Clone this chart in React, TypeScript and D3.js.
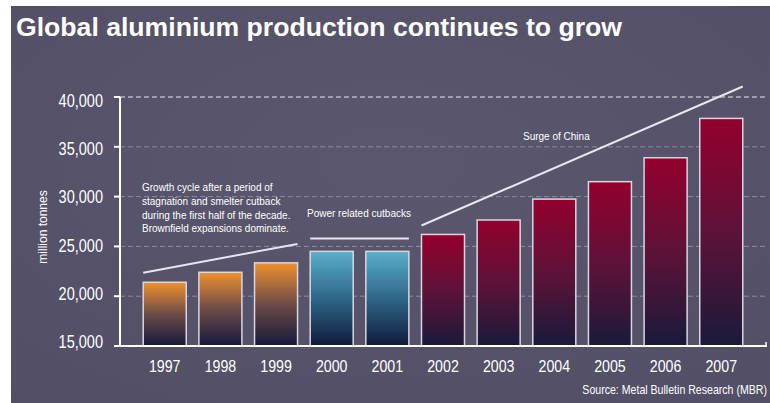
import React from "react";
import * as d3 from "d3";

// Annual production by year
const years = ["1997", "1998", "1999", "2000", "2001", "2002", "2003", "2004", "2005", "2006", "2007"];
const production = [21400, 22400, 23350, 24500, 24500, 26200, 27650, 29750, 31500, 33900, 37850];
// Phase each year belongs to (drives the bar colour)
const phases = ["growth", "growth", "growth", "cutback", "cutback", "china", "china", "china", "china", "china", "china"];
const yTicks = [15000, 20000, 25000, 30000, 35000, 40000];

// Trend annotations: start / end year and value
const trendGrowth = { from: ["1997", 22350], to: ["1999", 25250] };
const trendCutback = { from: ["2000", 25800], to: ["2001", 25800] };
const trendChina = { from: ["2002", 27100], to: ["2007", 41050] };

const growthNote = [
  "Growth cycle after a period of",
  "stagnation and smelter cutback",
  "during the first half of the decade.",
  "Brownfield expansions dominate.",
];

const W = 770;
const H = 403;
const FONT = "'Liberation Sans', Arial, sans-serif";

// Horizontally condensed text (narrow grotesque look)
function Narrow({
  x,
  y,
  sx,
  size,
  anchor = "start",
  bold = false,
  children,
}: {
  x: number;
  y: number;
  sx: number;
  size: number;
  anchor?: string;
  bold?: boolean;
  children: React.ReactNode;
}) {
  return (
    <text
      transform={`translate(${x},${y}) scale(${sx},1)`}
      textAnchor={anchor}
      fill="#ffffff"
      fontFamily={FONT}
      fontWeight={bold ? "bold" : "normal"}
      fontSize={size}
    >
      {children}
    </text>
  );
}

export default function App() {
  const x = d3.scaleBand<string>().domain(years).range([120, 766]).paddingInner(0.227).paddingOuter(0.4175);
  const y = d3.scaleLinear().domain([15000, 40000]).range([346, 97]);
  // tick labels sit on a slightly tighter spacing than the ticks
  const yLabel = d3.scaleLinear().domain([15000, 40000]).range([341.7, 100.7]);
  const fmt = d3.format(",");

  const gradId = (p: string) => `grad-${p}`;
  const lineFrom = (t: { from: any[]; to: any[] }) => ({
    x1: x(t.from[0])!,
    y1: y(t.from[1]),
    x2: x(t.to[0])! + x.bandwidth(),
    y2: y(t.to[1]),
  });
  const trends = [trendGrowth, trendCutback, trendChina].map(lineFrom);

  return (
    <svg width={W} height={H} style={{ position: "absolute", left: 0, top: 0 }}>
      <defs>
        <linearGradient id={gradId("growth")} x1="0" y1="0" x2="0" y2="1">
          <stop offset="0" stopColor="#ef912e" />
          <stop offset="0.5" stopColor="#6c4b47" />
          <stop offset="1" stopColor="#15193a" />
        </linearGradient>
        <linearGradient id={gradId("cutback")} x1="0" y1="0" x2="0" y2="1">
          <stop offset="0" stopColor="#5aaecb" />
          <stop offset="0.5" stopColor="#2f6688" />
          <stop offset="1" stopColor="#0f1a3a" />
        </linearGradient>
        <linearGradient id={gradId("china")} x1="0" y1="0" x2="0" y2="1">
          <stop offset="0" stopColor="#94002e" />
          <stop offset="0.5" stopColor="#5e1238" />
          <stop offset="1" stopColor="#191a3a" />
        </linearGradient>
        <radialGradient id="bg" cx="0.5" cy="0.4" r="0.8">
          <stop offset="0" stopColor="#5a576f" />
          <stop offset="1" stopColor="#524e66" />
        </radialGradient>
      </defs>

      <rect x={0} y={0} width={W} height={H} fill="#ffffff" />
      <rect x={11} y={6} width={W - 11} height={H - 6} fill="url(#bg)" />

      <text
        x={16}
        y={36}
        fill="#ffffff"
        fontFamily={FONT}
        fontWeight="bold"
        fontSize={26}
        textLength={606}
        lengthAdjust="spacingAndGlyphs"
      >
        Global aluminium production continues to grow
      </text>

      {/* gridlines */}
      {yTicks.slice(1).map((t) => (
        <line
          key={t}
          x1={120}
          x2={766}
          y1={y(t)}
          y2={y(t)}
          stroke={t === 40000 ? "#e8e8ee" : "#8e8b9c"}
          strokeWidth={1}
          strokeDasharray="5,3"
        />
      ))}

      {/* bars */}
      {years.map((yr, i) => (
        <rect
          key={yr}
          x={x(yr)}
          y={y(production[i])}
          width={x.bandwidth()}
          height={y(15000) - y(production[i])}
          fill={`url(#${gradId(phases[i])})`}
          stroke="#d8d6e0"
          strokeWidth={1.5}
        />
      ))}

      {/* axes */}
      <line x1={120} x2={120} y1={y(40000)} y2={y(15000)} stroke="#ffffff" strokeWidth={2} />
      <line x1={114} x2={767} y1={y(15000)} y2={y(15000)} stroke="#ffffff" strokeWidth={2} />
      <line x1={766} x2={766} y1={y(15000) - 4} y2={y(15000)} stroke="#ffffff" strokeWidth={1.5} />
      {yTicks.map((t) => (
        <g key={t}>
          <line x1={114} x2={120} y1={y(t)} y2={y(t)} stroke="#ffffff" strokeWidth={2} />
          <Narrow x={103} y={yLabel(t) + 6.3} sx={0.83} size={17.5} anchor="end">
            {fmt(t)}
          </Narrow>
        </g>
      ))}
      {years.map((yr) => (
        <Narrow key={yr} x={x(yr)! + x.bandwidth() / 2} y={372} sx={0.87} size={16.3} anchor="middle">
          {yr}
        </Narrow>
      ))}

      <text
        transform={`translate(47,227) rotate(-90)`}
        textAnchor="middle"
        fill="#ffffff"
        fontFamily={FONT}
        fontSize={12}
      >
        million tonnes
      </text>

      {/* trend annotations */}
      {trends.map((l, i) => (
        <line key={i} {...l} stroke="#e6e6ee" strokeWidth={2} />
      ))}
      <text fill="#ffffff" fontFamily={FONT} fontSize={10}>
        {growthNote.map((s, i) => (
          <tspan key={i} x={142} y={191 + i * 13.8}>
            {s}
          </tspan>
        ))}
      </text>
      <text x={307} y={217} fill="#ffffff" fontFamily={FONT} fontSize={10}>
        Power related cutbacks
      </text>
      <text x={523} y={140} fill="#ffffff" fontFamily={FONT} fontSize={10}>
        Surge of China
      </text>

      <Narrow x={767} y={394} sx={0.815} size={13} anchor="end">
        Source: Metal Bulletin Research (MBR)
      </Narrow>
    </svg>
  );
}
